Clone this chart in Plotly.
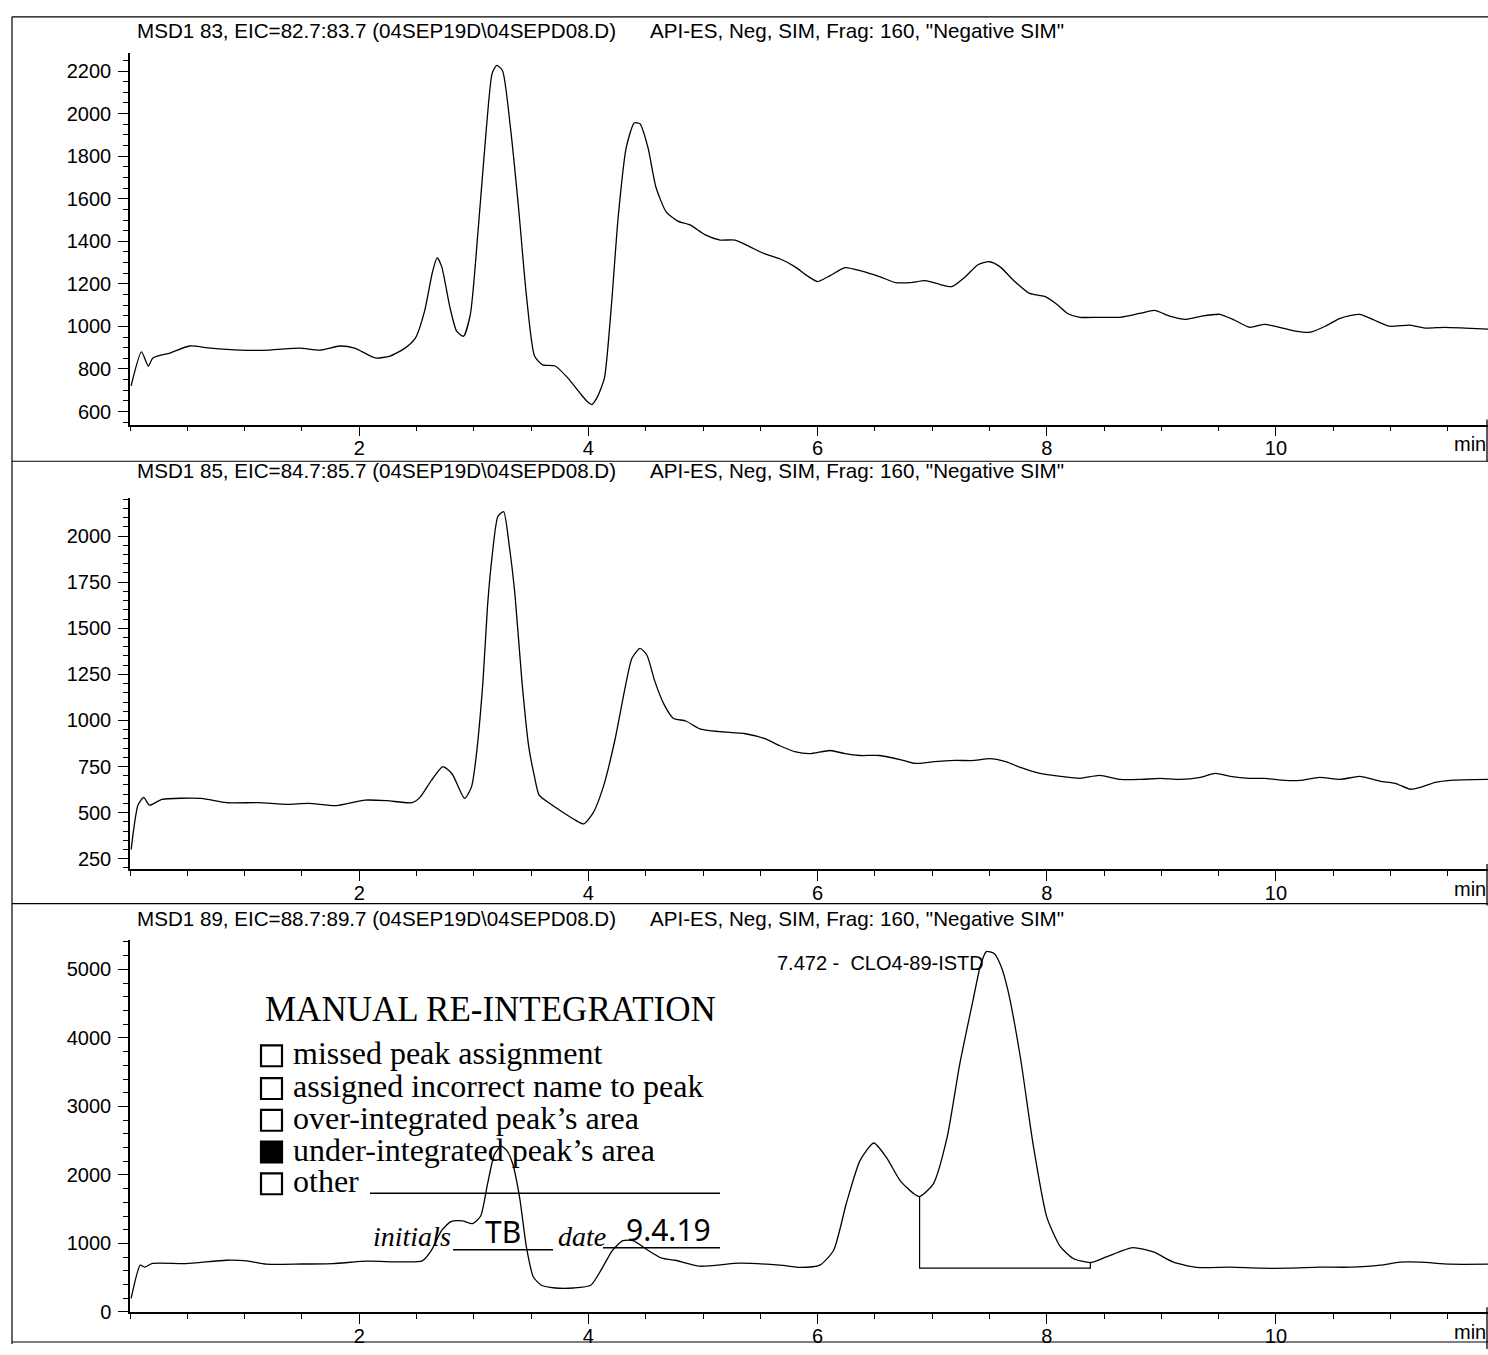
import numpy as np
import plotly.graph_objects as go

# ---- extracted-ion chromatograms: retention time (min) vs abundance ----
time_83 = [0.01, 0.10, 0.16, 0.20, 0.35, 0.52, 0.70, 0.96, 1.22, 1.48, 1.66, 1.83, 1.96,
           2.14, 2.27, 2.40, 2.49, 2.57, 2.64, 2.68, 2.72, 2.79, 2.85, 2.91, 2.97, 3.04,
           3.11, 3.16, 3.20, 3.25, 3.32, 3.39, 3.46, 3.53, 3.60, 3.71, 3.82, 3.93, 3.99,
           4.03, 4.08, 4.14, 4.20, 4.26, 4.33, 4.40, 4.45, 4.52, 4.59, 4.68, 4.78, 4.89,
           5.02, 5.15, 5.28, 5.41, 5.54, 5.67, 5.80, 5.92, 6.00, 6.11, 6.24, 6.37, 6.54,
           6.68, 6.81, 6.94, 7.07, 7.17, 7.29, 7.40, 7.50, 7.59, 7.72, 7.85, 7.98, 8.09,
           8.18, 8.29, 8.46, 8.64, 8.81, 8.94, 9.08, 9.21, 9.34, 9.51, 9.64, 9.77, 9.90,
           10.03, 10.17, 10.30, 10.43, 10.56, 10.73, 10.86, 10.99, 11.17, 11.30, 11.47,
           11.65, 11.85]
abund_83 = [721, 880, 814, 852, 875, 908, 898, 889, 889, 898, 889, 908, 898,
            852, 861, 898, 945, 1071, 1257, 1322, 1281, 1094, 978, 954, 1057, 1467,
            1933, 2189, 2227, 2203, 1933, 1560, 1141, 861, 819, 814, 758, 684, 647,
            633, 670, 758, 1094, 1514, 1840, 1956, 1952, 1840, 1653, 1537, 1495, 1476,
            1430, 1406, 1406, 1374, 1341, 1318, 1281, 1234, 1211, 1239, 1276, 1262, 1234,
            1206, 1206, 1215, 1197, 1187, 1234, 1290, 1304, 1281, 1211, 1155, 1141, 1103,
            1061, 1043, 1043, 1043, 1061, 1075, 1047, 1033, 1047, 1057, 1029, 996, 1010,
            996, 978, 973, 1001, 1038, 1057, 1029, 1001, 1006, 992, 996,
            992, 987]

time_85 = [0.01, 0.07, 0.12, 0.17, 0.28, 0.62, 0.84, 1.12, 1.37, 1.56, 1.80, 2.05, 2.24,
           2.46, 2.53, 2.63, 2.73, 2.81, 2.92, 2.98, 3.02, 3.08, 3.12, 3.16, 3.21, 3.26,
           3.31, 3.36, 3.42, 3.48, 3.53, 3.57, 3.67, 3.79, 3.89, 3.96, 4.04, 4.13, 4.23,
           4.32, 4.38, 4.45, 4.51, 4.58, 4.66, 4.74, 4.85, 4.97, 5.15, 5.37, 5.54, 5.67,
           5.80, 5.93, 6.11, 6.24, 6.37, 6.54, 6.72, 6.85, 7.02, 7.20, 7.37, 7.50, 7.64,
           7.77, 7.94, 8.12, 8.29, 8.46, 8.64, 8.81, 8.99, 9.16, 9.34, 9.47, 9.60, 9.77,
           9.90, 10.08, 10.21, 10.38, 10.56, 10.73, 10.91, 11.04, 11.17, 11.26, 11.39,
           11.52, 11.85]
abund_85 = [300, 541, 583, 541, 572, 577, 554, 554, 545, 550, 538, 568, 565,
            554, 583, 675, 750, 711, 577, 640, 801, 1212, 1623, 1892, 2106, 2133,
            1945, 1677, 1212, 855, 694, 595, 547, 497, 458, 439, 497, 640, 890,
            1177, 1337, 1391, 1355, 1212, 1087, 1012, 997, 955, 939, 928, 901, 863,
            831, 820, 837, 820, 810, 810, 788, 767, 777, 783, 783, 793, 777,
            745, 713, 697, 686, 702, 680, 680, 686, 680, 691, 713, 697, 686,
            686, 675, 675, 691, 680, 697, 670, 659, 627, 637, 664,
            675, 680]

time_89 = [0.01, 0.09, 0.13, 0.19, 0.49, 0.84, 1.02, 1.19, 1.50, 1.77, 2.07, 2.36, 2.55,
           2.63, 2.72, 2.80, 2.90, 2.99, 3.06, 3.12, 3.18, 3.24, 3.29, 3.34, 3.40, 3.46,
           3.52, 3.59, 3.71, 3.87, 4.02, 4.11, 4.21, 4.30, 4.39, 4.52, 4.64, 4.76, 4.97,
           5.32, 5.67, 5.85, 6.02, 6.14, 6.25, 6.37, 6.49, 6.60, 6.72, 6.84, 6.89, 7.01,
           7.13, 7.24, 7.36, 7.42, 7.472, 7.54, 7.60, 7.66, 7.77, 7.88, 8.00, 8.12, 8.23,
           8.38, 8.52, 8.75, 8.93, 9.10, 9.31, 9.60, 9.86, 10.12, 10.38, 10.65, 10.91,
           11.08, 11.26, 11.52, 11.85]
abund_89 = [200, 683, 654, 707, 707, 755, 745, 697, 700, 707, 741, 731, 745,
            900, 1190, 1320, 1330, 1290, 1400, 1870, 2300, 2420, 2350, 2160, 1670, 940,
            510, 390, 350, 350, 390, 610, 900, 1040, 1040, 900, 785, 755, 668,
            712, 683, 650, 683, 901, 1579, 2209, 2466, 2257, 1918, 1725, 1685, 1870,
            2547, 3614, 4581, 5050, 5260, 5230, 5050, 4700, 3710, 2451, 1385, 949, 780,
            722, 804, 940, 876, 731, 650, 654, 639, 639, 654, 654, 683,
            727, 727, 697, 697]

# integration of the internal-standard peak
peak_rt = 7.472
peak_name = "CLO4-89-ISTD"
integ_start = 6.89
integ_end = 8.38
integ_baseline = 640

# axis ticks
x_ticks = [2, 4, 6, 8, 10]
y_ticks_83 = [600, 800, 1000, 1200, 1400, 1600, 1800, 2000, 2200]
y_ticks_85 = [250, 500, 750, 1000, 1250, 1500, 1750, 2000]
y_ticks_89 = [0, 1000, 2000, 3000, 4000, 5000]

titles = [
    ("MSD1 83, EIC=82.7:83.7 (04SEP19D\\04SEPD08.D)", 'API-ES, Neg, SIM, Frag: 160, "Negative SIM"'),
    ("MSD1 85, EIC=84.7:85.7 (04SEP19D\\04SEPD08.D)", 'API-ES, Neg, SIM, Frag: 160, "Negative SIM"'),
    ("MSD1 89, EIC=88.7:89.7 (04SEP19D\\04SEPD08.D)", 'API-ES, Neg, SIM, Frag: 160, "Negative SIM"'),
]

checklist = ["missed peak assignment", "assigned incorrect name to peak",
             "over-integrated peak\u2019s area", "under-integrated peak\u2019s area", "other"]
checked = [False, False, False, True, False]

# ---- page geometry (pixels) ----
W, H = 1488, 1355
SANS = "Liberation Sans, Arial, sans-serif"
SERIF = "Liberation Serif, Times New Roman, serif"


def fx(px):
    return px / W


def fy(py):
    return 1 - py / H


panels = [
    dict(top=53, bottom=428, yr=[539, 2287], yt=y_ticks_83, minor=50, ty=31),
    dict(top=502, bottom=876, yr=[195, 2207], yt=y_ticks_85, minor=50, ty=474),
    dict(top=948, bottom=1323, yr=[-4, 5424], yt=y_ticks_89, minor=200, ty=926),
]
x_range = [0, 11.85]
plot_left = 130

fig = go.Figure()
series = [(time_83, abund_83), (time_85, abund_85), (time_89, abund_89)]
for i, (t, a) in enumerate(series):
    sfx = "" if i == 0 else str(i + 1)
    fig.add_trace(go.Scatter(x=t, y=a, mode="lines", xaxis="x" + sfx, yaxis="y" + sfx,
                             line=dict(color="black", width=1.3, shape="spline", smoothing=0.6),
                             hoverinfo="skip", showlegend=False))

# integration baseline and drop lines for the ISTD peak
y_start = float(np.interp(integ_start, time_89, abund_89))
y_end = float(np.interp(integ_end, time_89, abund_89))
fig.add_trace(go.Scatter(x=[integ_start, integ_start, integ_end, integ_end],
                         y=[y_start, integ_baseline, integ_baseline, y_end],
                         mode="lines", xaxis="x3", yaxis="y3",
                         line=dict(color="black", width=1.2), hoverinfo="skip", showlegend=False))

axis_font = dict(family=SANS, size=20, color="black")
title_font = dict(family=SANS, size=20.6, color="black")
layout = dict(width=W, height=H, margin=dict(l=0, r=0, t=0, b=0),
              paper_bgcolor="white", plot_bgcolor="white", showlegend=False)

shapes = []
annotations = []
for i, p in enumerate(panels):
    sfx = "" if i == 0 else str(i + 1)
    layout["xaxis" + sfx] = dict(
        domain=[fx(plot_left), 1], range=x_range, anchor="y" + sfx,
        showline=True, linecolor="black", linewidth=1.5, mirror=False,
        ticks="outside", ticklen=10, tickwidth=1.3, tickcolor="black",
        tickmode="array", tickvals=x_ticks, ticklabelstandoff=-5,
        minor=dict(ticks="outside", ticklen=5, tickwidth=1.2, tickcolor="black",
                   dtick=0.5, tick0=0, showgrid=False),
        showgrid=False, zeroline=False, tickfont=axis_font, fixedrange=True)
    layout["yaxis" + sfx] = dict(
        domain=[fy(p["bottom"]), fy(p["top"])], range=p["yr"], anchor="x" + sfx,
        showline=True, linecolor="black", linewidth=1.5,
        ticks="outside", ticklen=10, tickwidth=1.3, tickcolor="black",
        tickmode="array", tickvals=p["yt"], ticklabelstandoff=3,
        minor=dict(ticks="outside", ticklen=5, tickwidth=1.1, tickcolor="black",
                   dtick=p["minor"], tick0=0, showgrid=False),
        showgrid=False, zeroline=False, tickfont=axis_font, fixedrange=True)

    left_title, right_title = titles[i]
    annotations.append(dict(text=left_title, x=fx(135), y=fy(p["ty"]), xref="paper", yref="paper",
                            xanchor="left", yanchor="middle", showarrow=False, font=title_font))
    annotations.append(dict(text=right_title, x=fx(648), y=fy(p["ty"]), xref="paper", yref="paper",
                            xanchor="left", yanchor="middle", showarrow=False, font=title_font))
    annotations.append(dict(text="min", x=1, y=fy(p["bottom"] + 20), xref="paper", yref="paper",
                            xanchor="right", yanchor="middle", showarrow=False, font=axis_font))
    # short closing stroke at the right end of each time axis
    shapes.append(dict(type="line", xref="paper", yref="paper", x0=fx(1487), x1=fx(1487),
                       y0=fy(p["bottom"] - 5), y1=fy(p["bottom"] + 37),
                       line=dict(color="black", width=1.3)))

# page frame and panel separators
frame_lines = [((12, 17), (1488, 17)), ((12, 17), (12, 1355)),
               ((12, 465), (1488, 465)), ((12, 911), (1488, 911)), ((12, 1353), (1488, 1353))]
for (x0, y0), (x1, y1) in frame_lines:
    shapes.append(dict(type="line", xref="paper", yref="paper", x0=fx(x0), y0=fy(y0),
                       x1=fx(x1), y1=fy(y1), line=dict(color="black", width=1.2)))

# peak label
annotations.append(dict(text="%.3f -\u00a0\u00a0%s" % (peak_rt, peak_name), x=peak_rt, y=5100,
                        xref="x3", yref="y3", xanchor="right", yanchor="middle", showarrow=False,
                        font=axis_font))

# manual re-integration stamp
annotations.append(dict(text="MANUAL RE-INTEGRATION", x=fx(263), y=fy(1018), xref="paper",
                        yref="paper", xanchor="left", yanchor="middle", showarrow=False,
                        font=dict(family=SERIF, size=35, color="black")))
row_y = [1064, 1097, 1129, 1161, 1193]
for label, is_checked, ry in zip(checklist, checked, row_y):
    annotations.append(dict(text=label, x=fx(291), y=fy(ry - 2), xref="paper", yref="paper",
                            xanchor="left", yanchor="middle", showarrow=False,
                            font=dict(family=SERIF, size=32, color="black")))
    shapes.append(dict(type="rect", xref="paper", yref="paper",
                       x0=fx(261), x1=fx(282), y0=fy(ry - 10), y1=fy(ry + 11),
                       line=dict(color="black", width=2.2),
                       fillcolor="black" if is_checked else "rgba(0,0,0,0)"))
for (x0, x1, yy) in [(370, 720, 1203), (453, 553, 1260), (603, 720, 1258)]:
    shapes.append(dict(type="line", xref="paper", yref="paper", x0=fx(x0), x1=fx(x1),
                       y0=fy(yy), y1=fy(yy), line=dict(color="black", width=1.6)))
annotations.append(dict(text="<i>initials</i>", x=fx(453), y=fy(1247), xref="paper", yref="paper",
                        xanchor="right", yanchor="middle", showarrow=False,
                        font=dict(family=SERIF, size=28, color="black")))
annotations.append(dict(text="<i>date</i>", x=fx(556), y=fy(1247), xref="paper", yref="paper",
                        xanchor="left", yanchor="middle", showarrow=False,
                        font=dict(family=SERIF, size=28, color="black")))
annotations.append(dict(text="TB", x=fx(503), y=fy(1242), xref="paper", yref="paper",
                        xanchor="center", yanchor="middle", showarrow=False,
                        font=dict(family="Noto Sans, sans-serif", size=30, color="black")))
annotations.append(dict(text="9.4.19", x=fx(668), y=fy(1240), xref="paper", yref="paper",
                        xanchor="center", yanchor="middle", showarrow=False,
                        font=dict(family="Noto Sans, sans-serif", size=30, color="black")))

layout["shapes"] = shapes
layout["annotations"] = annotations
fig.update_layout(**layout)
fig.write_html("out.html")
